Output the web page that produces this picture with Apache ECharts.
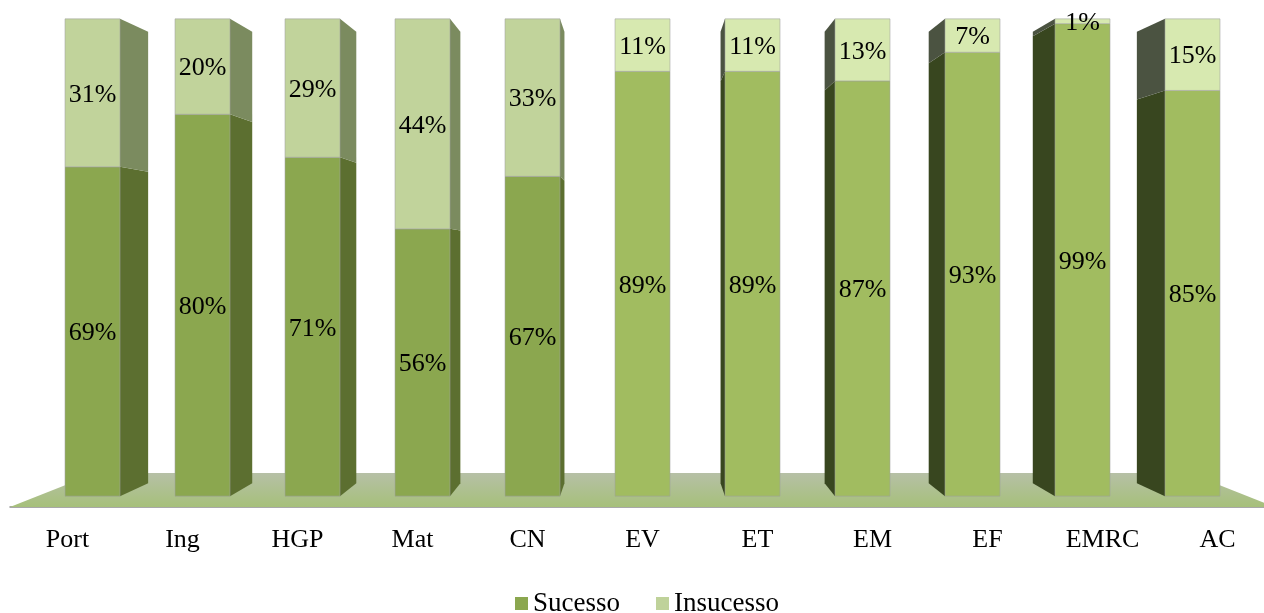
<!DOCTYPE html>
<html>
<head>
<meta charset="utf-8">
<script src="https://cdn.jsdelivr.net/npm/echarts@6/dist/echarts.min.js"></script>
<style>html,body{margin:0;padding:0;background:#fff}#c{width:1264px;height:613px}</style>
</head>
<body>
<div id="c"></div>
<script>
const categories = ['Port','Ing','HGP','Mat','CN','EV','ET','EM','EF','EMRC','AC'];
const sucesso = [69,80,71,56,67,89,89,87,93,99,85];
const insucesso = [31,20,29,44,33,11,11,13,7,1,15];

const T_FRONT = 0.0435, T_BACK = 0.095, T_FLOOR = 0.136;
const FONT = '"Liberation Serif", "DejaVu Serif", serif';

const palette = {
  Sucesso:   {frontL:'#8ba74f', frontR:'#a1bc60', sideL:'#5c6f30', sideR:'#38461f'},
  Insucesso: {frontL:'#c1d39b', frontR:'#d7e9b0', sideL:'#7b8b5f', sideR:'#4b5341'}
};

function makeRender(name){
  const pal = palette[name];
  return function(params, api){
    const i = api.value(0), base = api.value(1), top = api.value(2), lab = api.value(3);
    const cs = params.coordSys;
    const vx = cs.x + cs.width/2, vy = cs.y + cs.height/2;
    const cx = api.coord([i, 0])[0];
    const half = api.size([1, 0])[0] * 0.25;
    const yb = api.coord([i, base])[1], yt = api.coord([i, top])[1];
    const xl = cx - half, xr = cx + half;
    const P = (x, y, t) => [x + (vx - x) * t, y + (vy - y) * t];
    const a = P(xl, yt, T_FRONT), b = P(xr, yb, T_FRONT);
    const leftSide = cx < vx - 1, rightSide = cx > vx + 1;
    const children = [];
    if (leftSide) {
      children.push({type:'polygon', shape:{points:[P(xr,yt,T_FRONT),P(xr,yt,T_BACK),P(xr,yb,T_BACK),P(xr,yb,T_FRONT)]},
        style:{fill:pal.sideL}});
    } else if (rightSide) {
      children.push({type:'polygon', shape:{points:[P(xl,yt,T_FRONT),P(xl,yt,T_BACK),P(xl,yb,T_BACK),P(xl,yb,T_FRONT)]},
        style:{fill:pal.sideR}});
    }
    const front = i < 5 ? pal.frontL : pal.frontR;
    children.push({type:'rect', shape:{x:a[0], y:a[1], width:b[0]-a[0], height:b[1]-a[1]},
      style:{fill:front, stroke:'rgba(160,160,160,0.55)', lineWidth:1}});
    children.push({type:'text', z2:10, style:{text: lab + '%', x:(a[0]+b[0])/2, y:(a[1]+b[1])/2 + 2,
      align:'center', verticalAlign:'middle', fontFamily:FONT, fontSize:26, fill:'#000'}});
    return {type:'group', children};
  };
}

function renderFloor(params, api){
  const cs = params.coordSys;
  const vx = cs.x + cs.width/2, vy = cs.y + cs.height/2;
  const P = (x, y, t) => [x + (vx - x) * t, y + (vy - y) * t];
  const yb = cs.y + cs.height, x0 = cs.x, x1 = cs.x + cs.width;
  return {type:'polygon', shape:{points:[[x0,yb],[x1,yb],P(x1,yb,T_FLOOR),P(x0,yb,T_FLOOR)]},
    style:{fill:new echarts.graphic.LinearGradient(0,0,0,1,[{offset:0,color:'#b6c0a6'},{offset:1,color:'#a6c07a'}])}};
}

const sucData = sucesso.map((v,i)=>[i,0,v,v]);
const insData = insucesso.map((v,i)=>[i,sucesso[i],100,v]);

const chart = echarts.init(document.getElementById('c'));
chart.setOption({
  animation:false,
  legend:{data:['Sucesso','Insucesso'], bottom:-9, left:510, icon:'rect', itemWidth:13, itemHeight:13, itemGap:36,
    textStyle:{fontFamily:FONT, fontSize:27, color:'#000'}},
  grid:{left:10, width:1265, top:8, bottom:106, outerBoundsMode:'none', containLabel:false},
  xAxis:{type:'category', data:categories, axisLine:{lineStyle:{color:'#8c8c8c', width:1.5}},
    axisTick:{length:6, lineStyle:{color:'#8c8c8c', width:1.5}},
    axisLabel:{fontFamily:FONT, fontSize:26, color:'#000', margin:20}},
  yAxis:{type:'value', min:0, max:100, show:false},
  series:[
    {type:'custom', name:'floor', renderItem:renderFloor, data:[[0]], z:1, silent:true},
    {type:'custom', name:'Sucesso', renderItem:makeRender('Sucesso'), data:sucData, itemStyle:{color:'#8ba74f'}, z:2,
      encode:{x:0, y:[1,2]}},
    {type:'custom', name:'Insucesso', renderItem:makeRender('Insucesso'), data:insData, itemStyle:{color:'#bfd29a'}, z:2,
      encode:{x:0, y:[1,2]}}
  ]
});
</script>
</body>
</html>
